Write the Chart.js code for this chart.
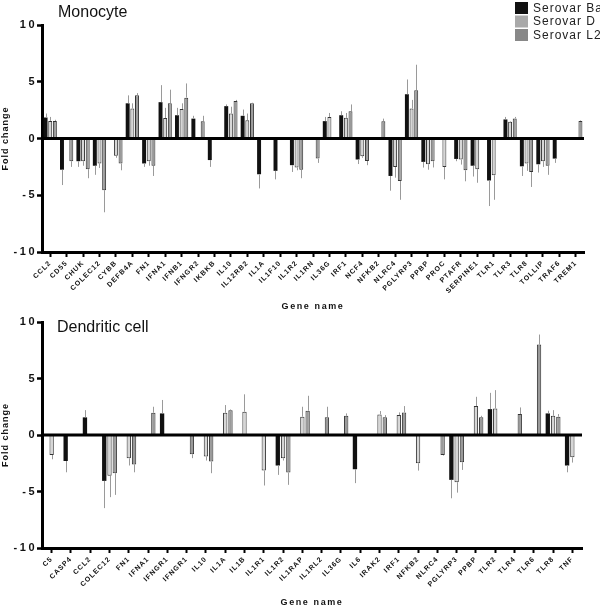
<!DOCTYPE html>
<html><head><meta charset="utf-8">
<script src="https://cdn.jsdelivr.net/npm/chart.js@4.4.1/dist/chart.umd.min.js"></script>
<style>html,body{margin:0;padding:0;background:#fff;} canvas{display:block;}</style>
</head><body>
<canvas id="c1" width="600" height="314"></canvas>
<canvas id="c2" width="600" height="294"></canvas>
<script>
// ---------- DATA ----------
const seriesLabels = ['Serovar Ba', 'Serovar D', 'Serovar L2'];

const monoGenes = ['CCL2','CD55','CHUK','COLEC12','CYBB','DEFB4A','FN1','IFNA1','IFNB1','IFNGR2','IKBKB','IL10','IL12RB2','IL1A','IL1F10','IL1R2','IL1RN','IL36G','IRF1','NCF4','NFKB2','NLRC4','PGLYRP3','PPBP','PROC','PTAFR','SERPINE1','TLR1','TLR3','TLR8','TOLLIP','TRAF6','TREM1'];
const monoBa = [1.85,-2.75,-2.0,-2.4,null,3.1,-2.2,3.2,2.05,1.75,-1.9,2.85,2.0,-3.15,-2.85,-2.35,null,1.53,2.05,-1.85,null,-3.3,3.9,-2.06,null,-1.8,-2.4,-3.7,1.68,-2.45,-2.27,-1.77,null];
const monoD  = [1.55,null,-2.0,-2.2,-1.53,2.65,-2.0,1.8,2.6,null,null,2.2,1.6,null,null,-2.55,null,1.9,1.82,-1.56,null,-2.5,2.65,-2.27,-2.5,-1.85,-2.7,-3.24,1.47,-2.2,-2.0,null,null];
const monoL2 = [1.55,-2.0,-2.7,-4.55,-2.2,3.8,-2.4,3.1,3.6,1.53,null,3.3,3.1,null,null,-2.75,-1.77,null,2.4,-1.98,1.53,-3.74,4.25,-2.0,null,-2.8,null,null,1.77,-2.95,-2.4,null,1.55];
const monoBaErr = [0.35,1.35,0.5,0.8,null,0.7,0.3,1.5,0.65,0.25,0.6,0.15,0.55,1.25,0.75,0.6,null,0.37,0.35,0.4,null,1.3,1.3,0.5,null,0.2,0.95,2.25,0.22,0.85,0.73,0.38,null];
const monoDErr  = [0.35,null,0.4,0.4,0.17,0.45,0.4,0.9,0.5,null,null,0.6,0.6,null,null,0.25,null,0.35,0.43,0.14,null,0.95,0.75,0.48,1.1,0.45,1.2,2.16,0.05,0.65,0.5,null,null];
const monoL2Err = [0.1,0.5,0.8,1.95,0.6,0.2,0.9,1.2,1.25,0.47,null,0.1,0.05,null,null,0.75,0.38,null,0.6,0.37,0.22,1.66,2.25,0.55,null,0.97,null,null,0.13,1.32,0.8,null,0.05];

const dcGenes = ['C5','CASP4','CCL2','COLEC12','FN1','IFNA1','IFNGR1','IFNGR1','IL10','IL1A','IL1B','IL1R1','IL1R2','IL1RAP','IL1RL2','IL36G','IL6','IRAK2','IRF1','NFKB2','NLRC4','PGLYRP3','PPBP','TLR2','TLR4','TLR6','TLR8','TNF'];
const dcBa = [null,-2.3,1.56,-4.06,null,null,1.91,null,null,null,null,null,-2.7,null,null,null,-3.03,null,null,null,null,-3.97,null,2.29,null,null,1.91,-2.7];
const dcD  = [-1.77,null,null,-3.6,-2.06,null,null,null,-1.9,1.97,2.06,-3.15,-2.06,1.62,null,null,null,1.82,1.76,-2.5,null,-4.18,2.56,2.35,null,null,1.7,-1.97];
const dcL2 = [null,null,null,-3.38,-2.6,1.97,null,-1.7,-2.35,2.2,null,null,-3.32,2.15,1.56,1.7,null,1.56,2.0,null,-1.77,-2.41,1.56,null,1.85,8.0,1.62,null];
const dcBaErr = [null,1.0,0.64,2.41,null,null,1.19,null,null,null,null,null,0.83,null,null,null,1.23,null,null,null,null,1.63,null,1.44,null,null,0.24,0.6];
const dcDErr  = [0.38,null,null,1.9,0.64,null,null,null,0.36,0.68,1.54,1.32,0.2,0.88,null,null,null,0.3,0.24,0.65,null,0.92,0.82,1.62,null,null,0.5,0.47];
const dcL2Err = [null,null,null,1.92,0.7,0.53,null,0.35,1.03,0.06,null,null,1.09,1.32,0.94,0.21,null,0.2,0.56,null,0.05,0.68,0.14,null,0.59,0.89,0.23,null];

const yTicksMin = -10, yTicksMax = 10, yStep = 5;

// ---------- STYLE ----------
const FONT = "'Liberation Sans', Arial, sans-serif";
const fills   = ['#111111', '#d6d6d6', '#9a9a9a'];
const borders = ['#000000', '#333333', '#333333'];
const legendColors = ['#111111', '#a9a9a9', '#888888'];

function setSpacing(ctx, v) { if ('letterSpacing' in ctx) ctx.letterSpacing = v; }

const spacingPlugin = {
  id: 'spacing',
  beforeDraw(chart) {
    setSpacing(chart.ctx, '1px');
    const y = chart.scales.y, x = chart.scales.x;
    if (!y._wrapped) {
      const ol = y.drawLabels, ot = y.drawTitle;
      y.drawLabels = function (a) { setSpacing(this.ctx, '2.5px'); ol.call(this, a); setSpacing(this.ctx, '1px'); };
      y.drawTitle = function (a) { setSpacing(this.ctx, '1px'); ot.call(this, a); setSpacing(this.ctx, '1px'); };
      y._wrapped = true;
    }
    if (!x._wrapped) {
      const ot = x.drawTitle;
      x.drawTitle = function (a) { setSpacing(this.ctx, '1.6px'); ot.call(this, a); setSpacing(this.ctx, '1px'); };
      x._wrapped = true;
    }
  }
};

const errorBarPlugin = {
  id: 'errbars',
  afterDatasetsDraw(chart) {
    const ctx = chart.ctx, ys = chart.scales.y;
    chart.data.datasets.forEach((ds, di) => {
      const meta = chart.getDatasetMeta(di);
      ds.data.forEach((v, i) => {
        const e = ds.errors[i];
        if (v == null || e == null) return;
        const el = meta.data[i];
        const y0 = ys.getPixelForValue(v);
        const y1 = ys.getPixelForValue(v + (v >= 0 ? e : -e));
        const xx = Math.round(el.x) + 0.5;
        ctx.save();
        ctx.strokeStyle = '#9a9a9a';
        ctx.lineWidth = 1;
        ctx.beginPath(); ctx.moveTo(xx, y0); ctx.lineTo(xx, y1); ctx.stroke();
        ctx.restore();
      });
    });
  }
};

const zeroLinePlugin = {
  id: 'zeroline',
  afterDatasetsDraw(chart) {
    const ctx = chart.ctx, a = chart.chartArea, y0 = chart.scales.y.getPixelForValue(0);
    ctx.save();
    ctx.strokeStyle = '#000'; ctx.lineWidth = 3;
    ctx.beginPath(); ctx.moveTo(a.left, y0); ctx.lineTo(a.right, y0); ctx.stroke();
    ctx.restore();
  }
};

function makeChart(id, cfg) {
  const panelPlugin = {
    id: 'panel',
    afterDraw(chart) {
      const ctx = chart.ctx;
      ctx.save();
      setSpacing(ctx, '0px');
      ctx.fillStyle = '#111';
      ctx.font = '16px ' + FONT;
      ctx.textBaseline = 'alphabetic';
      ctx.textAlign = 'left';
      ctx.fillText(cfg.title, cfg.titleX, cfg.titleY);
      if (cfg.legend) {
        ctx.font = '12px ' + FONT;
        setSpacing(ctx, '1px');
        ctx.textBaseline = 'middle';
        chart.data.datasets.forEach((ds, i) => {
          const by = 2 + i * 13.5;
          ctx.fillStyle = legendColors[i];
          ctx.fillRect(515, by, 13, 12);
          ctx.fillStyle = '#222';
          ctx.fillText(ds.label, 533, by + 6.5);
        });
      }
      ctx.restore();
    }
  };
  return new Chart(document.getElementById(id), {
    type: 'bar',
    data: {
      labels: cfg.genes,
      datasets: cfg.series.map((s, i) => ({
        label: seriesLabels[i],
        data: s,
        errors: cfg.errs[i],
        backgroundColor: fills[i],
        borderColor: borders[i],
        borderWidth: i === 0 ? 0 : 1,
        categoryPercentage: cfg.cp,
        barPercentage: cfg.bp
      }))
    },
    options: {
      responsive: false,
      animation: false,
      devicePixelRatio: 1,
      layout: { padding: { top: cfg.padTop, right: cfg.padRight, left: 0, bottom: 0 } },
      plugins: { legend: { display: false }, tooltip: { enabled: false }, title: { display: false } },
      scales: {
        x: {
          type: 'category',
          offset: true,
          grid: { display: true, offset: false, drawOnChartArea: false, tickLength: 5, tickWidth: 2, tickColor: '#000' },
          border: { display: true, width: 3, color: '#000' },
          ticks: { autoSkip: false, maxRotation: 45, minRotation: 45, padding: 2, color: '#111',
                   font: { family: FONT, size: 7, weight: 'bold' } },
          title: { display: true, text: 'Gene name', color: '#111',
                   font: { family: FONT, size: 9, weight: 'bold' }, padding: { top: 0, bottom: cfg.xTitlePad } },
          afterFit(s) { s.height = cfg.xHeight; }
        },
        y: {
          min: yTicksMin, max: yTicksMax,
          ticks: { stepSize: yStep, padding: 0, color: '#111', font: { family: FONT, size: 11, weight: 'bold' } },
          grid: { display: true, drawOnChartArea: false, tickLength: 5, tickWidth: 2.5, tickColor: '#000' },
          border: { display: true, width: 3, color: '#000' },
          title: { display: true, text: 'Fold change', color: '#111',
                   font: { family: FONT, size: 9, weight: 'bold' }, padding: { top: 0, bottom: 0 } },
          afterFit(s) { s.width = 42; }
        }
      }
    },
    plugins: [spacingPlugin, zeroLinePlugin, errorBarPlugin, panelPlugin]
  });
}

makeChart('c1', {
  genes: monoGenes, series: [monoBa, monoD, monoL2], errs: [monoBaErr, monoDErr, monoL2Err],
  padTop: 25, padRight: 16, xHeight: 62, xTitlePad: 2, cp: 0.85, bp: 0.85,
  title: 'Monocyte', titleX: 58, titleY: 17, legend: true
});
makeChart('c2', {
  genes: dcGenes, series: [dcBa, dcD, dcL2], errs: [dcBaErr, dcDErr, dcL2Err],
  padTop: 8, padRight: 18, xHeight: 60, xTitlePad: 0, cp: 0.82, bp: 0.82,
  title: 'Dendritic cell', titleX: 57, titleY: 18, legend: false
});
</script>
</body></html>
